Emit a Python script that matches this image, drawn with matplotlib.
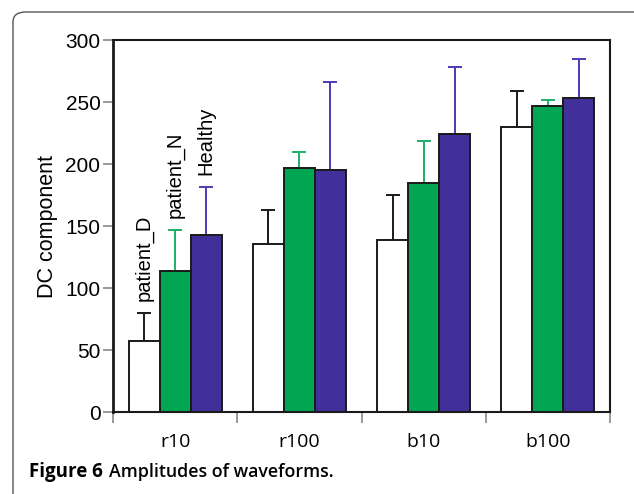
import matplotlib
matplotlib.use("Agg")
import matplotlib.pyplot as plt
import numpy as np
from matplotlib.patches import FancyBboxPatch

categories = ["r10", "r100", "b10", "b100"]
series_names = ["patient_D", "patient_N", "Healthy"]
patient_D = [57.5, 135.5, 139, 230]
patient_N = [113.5, 196.5, 184.5, 247]
healthy = [143, 195.5, 224, 253]
patient_D_err = [22, 27, 36, 29]
patient_N_err = [33, 13, 34, 5]
healthy_err = [38.5, 71, 54, 32]
yticks = [0, 50, 100, 150, 200, 250, 300]

values = [patient_D, patient_N, healthy]
errs = [patient_D_err, patient_N_err, healthy_err]
fills = ["white", "#00A651", "#42309A"]
ecols = ["#1a1a1a", "#1DB06A", "#4A3AB2"]

W, H = 634, 494
fig = plt.figure(figsize=(W/100, H/100), dpi=100)

# outer frame
frame = FancyBboxPatch((13/W, -0.05), 1.0, 1 - 12/H + 0.05,
                       boxstyle="round,pad=0,rounding_size=0.02",
                       transform=fig.transFigure, fill=False,
                       edgecolor="#555555", linewidth=1.0, clip_on=False)
fig.patches.append(frame)

ax = fig.add_axes([113/W, 1 - 412/H, (610 - 113)/W, (412 - 40)/H])
x = np.arange(len(categories))
bw = 0.25
for i, (vals, e) in enumerate(zip(values, errs)):
    pos = x + (i - 1) * bw
    ax.bar(pos, vals, width=bw, color=fills[i], edgecolor="#1a1a1a", linewidth=1.4, zorder=2)
    ax.errorbar(pos, vals, yerr=[np.zeros(len(vals)), e], fmt="none",
                ecolor=ecols[i], elinewidth=1.4, capsize=4.8, capthick=1.4, zorder=1)
    ax.text(pos[0], vals[0] + e[0] + 10, series_names[i], rotation=90,
            ha="center", va="bottom", fontsize=14.5, family="Liberation Sans")

ax.set_xlim(-0.5, len(categories) - 0.5)
ax.set_ylim(0, 300)
ax.set_yticks(yticks)
ax.set_yticklabels([str(t) for t in yticks], fontsize=15, family="Liberation Sans")
ax.tick_params(axis="y", direction="out", length=7, width=1.2, color="#888888", pad=2)
ax.set_xticks(x)
ax.set_xticklabels(categories, fontsize=14, family="Open Sans")
ax.tick_params(axis="x", which="major", length=0, pad=15)
ax.set_xticks(np.arange(len(categories) + 1) - 0.5, minor=True)
ax.tick_params(axis="x", which="minor", direction="out", length=8, width=1.2, color="#888888")

for s in ["top", "right", "bottom"]:
    ax.spines[s].set_linewidth(1.5)
    ax.spines[s].set_color("#1a1a1a")
ax.spines["left"].set_linewidth(2)
ax.spines["left"].set_color("#1a1a1a")

ax.set_ylabel("DC component", fontsize=15.5, family="Liberation Sans")
ax.yaxis.set_label_coords(-0.111, 0.5)

t1 = fig.text(29/W, 1 - 472/H, "Figure 6", fontsize=13.5, fontweight="bold",
              family="Open Sans", va="center", ha="left")
fig.canvas.draw()
bb = t1.get_window_extent()
fig.text((bb.x1 + 6)/W, 1 - 472/H, "Amplitudes of waveforms.", fontsize=12.8,
         fontweight="semibold", family="Open Sans", va="center", ha="left")

fig.savefig("out.png", dpi=100)
